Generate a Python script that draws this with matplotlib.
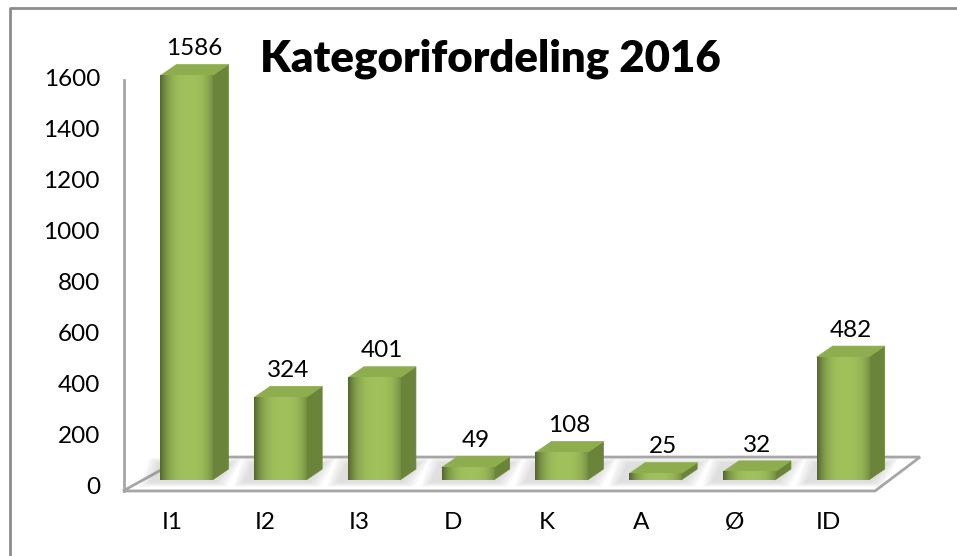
import matplotlib
matplotlib.use("Agg")
import matplotlib.pyplot as plt
from matplotlib.patches import Polygon
from matplotlib.lines import Line2D
import numpy as np

plt.rcParams['font.family'] = ['Lato', 'DejaVu Sans']

# data
categories = ["I1", "I2", "I3", "D", "K", "A", "Ø", "ID"]
values = [1586, 324, 401, 49, 108, 25, 32, 482]
yticks = [0, 200, 400, 600, 800, 1000, 1200, 1400, 1600]
title = "Kategorifordeling 2016"

# farger
front_col = "#9BBB59"
side_col = "#6A8539"
top_col = "#8DAD4E"
floor_edge = "#A6A6A6"

# 3D-ish geometri i dataenheter
W = 0.555      # bredde på stolpe
DX = 0.17      # dybde i x
DY = 43        # dybde i y

fig = plt.figure(figsize=(9.57, 5.56), dpi=100)
ax = fig.add_axes([0, 0, 1, 1])
ax.axis("off")

# ramme rundt diagrammet (bare venstre og topp synes)
fig.add_artist(Line2D([10/957, 10/957, 1], [0, 1-8/556, 1-8/556],
                      transform=fig.transFigure, color="#8C8C8C", lw=2))

# gulv
floor = Polygon([(-0.677, -43), (7.345, -43), (7.825, 90), (-0.02, 90)],
                closed=True, facecolor="white", edgecolor=floor_edge, lw=2, zorder=1)
ax.add_patch(floor)

# vertikal akse
ax.plot([-0.667, -0.667], [-43, 1569], color=floor_edge, lw=2, zorder=1)

# skygger under stolpene
for i, v in enumerate(values):
    x0 = i - W/2
    x1 = i + W/2
    for k in range(5):
        g = 0.025 * k
        sh = Polygon([(x0 - 0.12 - g, -10 - 4*k), (x1 + 0.05 + g, -10 - 4*k),
                      (x1 + DX + 0.05 + g, 70 + 4*k), (x0 - 0.02 - g, 70 + 4*k)],
                     closed=True, facecolor="#8C8C8C", edgecolor="none",
                     alpha=0.06, zorder=2)
        ax.add_patch(sh)

# gradient for forsiden
grad = np.linspace(0, 1, 64)
shade = 1 - 0.35 * (np.abs(grad - 0.55) * 2) ** 3
base = np.array(matplotlib.colors.to_rgb(front_col))
img = np.clip(base[None, :] * shade[:, None] * 1.03, 0, 1)[None, :, :]

for i, v in enumerate(values):
    x0 = i - W/2
    x1 = i + W/2
    side = Polygon([(x1, 0), (x1 + DX, DY), (x1 + DX, v + DY), (x1, v)],
                   closed=True, facecolor=side_col, edgecolor=side_col, lw=0.5, zorder=3)
    top = Polygon([(x0, v), (x1, v), (x1 + DX, v + DY), (x0 + DX, v + DY)],
                  closed=True, facecolor=top_col, edgecolor=top_col, lw=0.5, zorder=3)
    ax.add_patch(side)
    ax.add_patch(top)
    ax.imshow(img, extent=(x0, x1, 0, v), aspect="auto", zorder=4, interpolation="bilinear")
    ax.text(i + DX/2, v + DY + 62, str(v), ha="center", va="center",
            fontsize=17.5, color="black", zorder=5)

ax.set_xlim(-1.989, 8.219)
ax.set_ylim(-298, 1882)

# kategorier
for i, c in enumerate(categories):
    ax.text(i - 0.155, -165, c, ha="center", va="center", fontsize=17.5, color="black")

# y-akse etiketter
for t in yticks:
    ax.text(-0.923, t - 31, str(t), ha="right", va="center", fontsize=17.5, color="black")

ax.text(3.237, 1650, title, ha="center", va="center", fontsize=31.5,
        fontweight="heavy", color="black")

fig.savefig("out.png", dpi=100)
